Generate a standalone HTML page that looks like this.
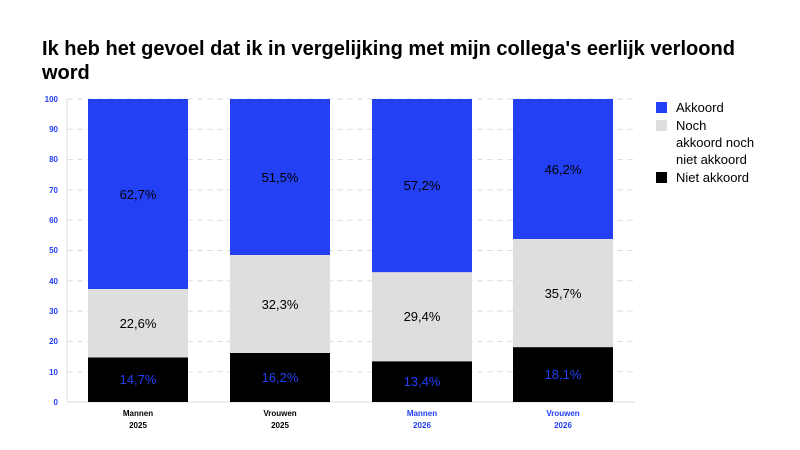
<!DOCTYPE html><html><head><meta charset="utf-8"><style>body{margin:0;background:#fff}svg{display:block;font-family:"Liberation Sans",sans-serif}</style></head><body>
<svg width="800" height="450" viewBox="0 0 800 450">
<text x="42" y="55" font-size="20" font-weight="bold" fill="#000" textLength="693" lengthAdjust="spacingAndGlyphs">Ik heb het gevoel dat ik in vergelijking met mijn collega's eerlijk verloond</text>
<text x="42" y="79" font-size="20" font-weight="bold" fill="#000">word</text>
<g stroke="#ddd" stroke-dasharray="6,4" stroke-width="1">
<line x1="67" x2="635" y1="99" y2="99"/><line x1="67" x2="635" y1="129.3" y2="129.3"/><line x1="67" x2="635" y1="159.6" y2="159.6"/><line x1="67" x2="635" y1="189.9" y2="189.9"/><line x1="67" x2="635" y1="220.2" y2="220.2"/><line x1="67" x2="635" y1="250.5" y2="250.5"/><line x1="67" x2="635" y1="280.8" y2="280.8"/><line x1="67" x2="635" y1="311.1" y2="311.1"/><line x1="67" x2="635" y1="341.4" y2="341.4"/><line x1="67" x2="635" y1="371.7" y2="371.7"/></g>
<g fill="#2340f5" font-size="8" font-weight="bold" text-anchor="end">
<text x="58" y="102">100</text><text x="58" y="132">90</text><text x="58" y="162">80</text><text x="58" y="193">70</text><text x="58" y="223">60</text><text x="58" y="253">50</text><text x="58" y="284">40</text><text x="58" y="314">30</text><text x="58" y="344">20</text><text x="58" y="375">10</text><text x="58" y="405">0</text></g>
<line x1="67" x2="67" y1="99" y2="402" stroke="#ddd"/>
<line x1="67" x2="635" y1="402" y2="402" stroke="#ddd"/>
<g>
<rect x="88" y="99" width="100" height="190" fill="#2340f5"/><rect x="88" y="289" width="100" height="68.5" fill="#dedede"/><rect x="88" y="357.5" width="100" height="44.5" fill="#000"/>
<rect x="230" y="99" width="100" height="156" fill="#2340f5"/><rect x="230" y="255" width="100" height="98" fill="#dedede"/><rect x="230" y="353" width="100" height="49" fill="#000"/>
<rect x="372" y="99" width="100" height="173.3" fill="#2340f5"/><rect x="372" y="272.3" width="100" height="89.1" fill="#dedede"/><rect x="372" y="361.4" width="100" height="40.6" fill="#000"/>
<rect x="513" y="99" width="100" height="140" fill="#2340f5"/><rect x="513" y="239" width="100" height="108.2" fill="#dedede"/><rect x="513" y="347.2" width="100" height="54.8" fill="#000"/>
</g>
<g font-size="13" text-anchor="middle">
<text x="138" y="199" fill="#000">62,7%</text><text x="138" y="328" fill="#000">22,6%</text><text x="138" y="384" fill="#2340f5">14,7%</text>
<text x="280" y="182" fill="#000">51,5%</text><text x="280" y="309" fill="#000">32,3%</text><text x="280" y="382" fill="#2340f5">16,2%</text>
<text x="422" y="190" fill="#000">57,2%</text><text x="422" y="321" fill="#000">29,4%</text><text x="422" y="386" fill="#2340f5">13,4%</text>
<text x="563" y="174" fill="#000">46,2%</text><text x="563" y="298" fill="#000">35,7%</text><text x="563" y="379" fill="#2340f5">18,1%</text>
</g>
<g font-size="8" font-weight="bold" text-anchor="middle">
<text x="138" y="416" fill="#000">Mannen</text><text x="138" y="428" fill="#000">2025</text>
<text x="280" y="416" fill="#000">Vrouwen</text><text x="280" y="428" fill="#000">2025</text>
<text x="422" y="416" fill="#2340f5">Mannen</text><text x="422" y="428" fill="#2340f5">2026</text>
<text x="563" y="416" fill="#2340f5">Vrouwen</text><text x="563" y="428" fill="#2340f5">2026</text>
</g>
<rect x="656" y="102" width="11" height="11" fill="#2340f5"/>
<rect x="656" y="120" width="11" height="11" fill="#dedede"/>
<rect x="656" y="172" width="11" height="11" fill="#000"/>
<g font-size="13" fill="#000">
<text x="676" y="112">Akkoord</text><text x="676" y="130">Noch</text><text x="676" y="147">akkoord noch</text><text x="676" y="164">niet akkoord</text><text x="676" y="182">Niet akkoord</text></g>
</svg></body></html>
